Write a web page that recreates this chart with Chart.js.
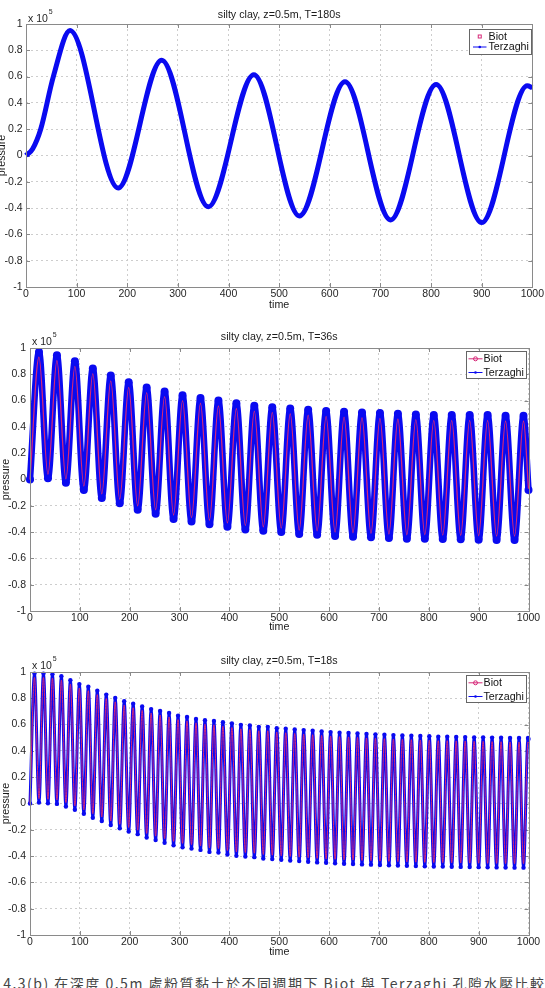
<!DOCTYPE html>
<html><head><meta charset="utf-8">
<script src="https://cdn.jsdelivr.net/npm/chart.js"></script>
<style>
html,body{margin:0;padding:0;background:#fff;width:545px;height:988px;overflow:hidden;}
body{position:relative;}
canvas{position:absolute;left:0;}
#cap{position:absolute;left:-17px;top:973px;font:14px "Noto Sans CJK TC",sans-serif;color:#444;white-space:nowrap;letter-spacing:1.5px;}
</style></head><body>
<canvas id="c1" width="545" height="322" style="top:0px"></canvas>
<canvas id="c2" width="545" height="324" style="top:322px"></canvas>
<canvas id="c3" width="545" height="319" style="top:646px"></canvas>
<div id="cap">圖 4.3(b) 在深度 0.5m 處粉質黏土於不同週期下 Biot 與 Terzaghi 孔隙水壓比較</div>
<script>
// ---------- tick labels / names ----------
const xTickValues = [0,100,200,300,400,500,600,700,800,900,1000];
const yTickValues = [-1,-0.8,-0.6,-0.4,-0.2,0,0.2,0.4,0.6,0.8,1];
const seriesNames = ['Biot','Terzaghi'];
const panelTitles = ['silty clay, z=0.5m, T=180s','silty clay, z=0.5m, T=36s','silty clay, z=0.5m, T=18s'];
const xTitle = 'time', yTitle = 'pressure', expBase = 'x 10', expPow = '5';

// ---------- panel 1 : T = 180 s (pressure in units of 1e5) ----------
const time180 = [0,13,29,54,87,182,268,360,450,540,630,720,810,900,990,1000];
const terz180 = [0,0.05,0.2,0.6,0.95,-0.247,0.725,-0.39,0.615,-0.46,0.56,-0.49,0.54,-0.51,0.53,0.515];
const biot180 = [0,0.05,0.2,0.6,0.945,-0.243,0.72,-0.386,0.61,-0.456,0.556,-0.486,0.536,-0.506,0.526,0.51];

// ---------- panel 2 : T = 36 s ----------
const ends36 = [0,1000];
const terzEnds36 = [0,-0.08];
const biotEnds36 = [0,-0.07];
const peakTime36 = [18,54,90,126,162,198,234,270,306,342,378,414,450,486,522,558,594,630,666,702,738,774,810,846,882,918,954,990];
const terzPeak36 = [0.97,0.945,0.90,0.845,0.79,0.74,0.70,0.67,0.64,0.62,0.60,0.58,0.56,0.55,0.54,0.53,0.52,0.515,0.51,0.505,0.50,0.495,0.49,0.49,0.49,0.49,0.485,0.485];
const biotPeak36 = [0.93,0.905,0.86,0.805,0.75,0.70,0.66,0.63,0.60,0.58,0.56,0.54,0.52,0.51,0.50,0.49,0.48,0.475,0.47,0.465,0.46,0.455,0.45,0.45,0.45,0.45,0.445,0.445];
const troughTime36 = [36,72,108,144,180,216,252,288,324,360,396,432,468,504,540,576,612,648,684,720,756,792,828,864,900,936,972];
const terzTrough36 = [0.01,-0.025,-0.08,-0.14,-0.18,-0.23,-0.26,-0.30,-0.32,-0.34,-0.36,-0.38,-0.39,-0.40,-0.415,-0.42,-0.43,-0.435,-0.44,-0.445,-0.45,-0.45,-0.453,-0.455,-0.458,-0.46,-0.46];
const biotTrough36 = [0.04,0.005,-0.05,-0.11,-0.15,-0.20,-0.23,-0.27,-0.29,-0.31,-0.33,-0.35,-0.36,-0.37,-0.385,-0.39,-0.40,-0.405,-0.41,-0.415,-0.42,-0.42,-0.423,-0.425,-0.428,-0.43,-0.43];

// ---------- panel 3 : T = 18 s ----------
const ends18 = [0,1000];
const terzEnds18 = [0,0.49];
const biotEnds18 = [0,0.46];
const peakTime18 = [9,27,45,63,81,99,117,135,153,171,189,207,225,243,261,279,297,315,333,351,369,387,405,423,441,459,477,495,513,531,549,567,585,603,621,639,657,675,693,711,729,747,765,783,801,819,837,855,873,891,909,927,945,963,981,999];
const terzPeak18 = [0.988,0.988,0.983,0.968,0.938,0.908,0.888,0.858,0.828,0.803,0.778,0.758,0.738,0.718,0.703,0.688,0.668,0.658,0.643,0.633,0.628,0.618,0.608,0.598,0.593,0.583,0.583,0.573,0.568,0.563,0.558,0.553,0.548,0.543,0.538,0.536,0.533,0.528,0.526,0.523,0.52,0.518,0.516,0.513,0.511,0.508,0.508,0.506,0.505,0.503,0.503,0.501,0.5,0.498,0.498,0.498];
const biotPeak18 = [0.958,0.958,0.953,0.938,0.908,0.878,0.858,0.828,0.798,0.773,0.748,0.728,0.708,0.688,0.673,0.658,0.638,0.628,0.613,0.603,0.598,0.588,0.578,0.568,0.563,0.553,0.553,0.543,0.538,0.533,0.528,0.523,0.518,0.513,0.508,0.506,0.503,0.498,0.496,0.493,0.49,0.488,0.486,0.483,0.481,0.478,0.478,0.476,0.475,0.473,0.473,0.471,0.47,0.468,0.468,0.468];
const troughTime18 = [18,36,54,72,90,108,126,144,162,180,198,216,234,252,270,288,306,324,342,360,378,396,414,432,450,468,486,504,522,540,558,576,594,612,630,648,666,684,702,720,738,756,774,792,810,828,846,864,882,900,918,936,954,972,990];
const terzTrough18 = [0.007,0.002,-0.003,-0.023,-0.048,-0.078,-0.108,-0.133,-0.163,-0.188,-0.213,-0.233,-0.258,-0.278,-0.298,-0.318,-0.333,-0.343,-0.353,-0.368,-0.373,-0.388,-0.398,-0.403,-0.408,-0.418,-0.423,-0.428,-0.433,-0.438,-0.443,-0.448,-0.451,-0.454,-0.458,-0.46,-0.463,-0.465,-0.468,-0.47,-0.472,-0.474,-0.476,-0.478,-0.479,-0.48,-0.481,-0.482,-0.483,-0.484,-0.485,-0.486,-0.487,-0.488,-0.488];
const biotTrough18 = [0.037,0.032,0.027,0.007,-0.018,-0.048,-0.078,-0.103,-0.133,-0.158,-0.183,-0.203,-0.228,-0.248,-0.268,-0.288,-0.303,-0.313,-0.323,-0.338,-0.343,-0.358,-0.368,-0.373,-0.378,-0.388,-0.393,-0.398,-0.403,-0.408,-0.413,-0.418,-0.421,-0.424,-0.428,-0.43,-0.433,-0.435,-0.438,-0.44,-0.442,-0.444,-0.446,-0.448,-0.449,-0.45,-0.451,-0.452,-0.453,-0.454,-0.455,-0.456,-0.457,-0.458,-0.458];

// ---------- helpers ----------
function merge(...parts){
  const pts=[];
  parts.forEach(([t,v])=>t.forEach((x,i)=>pts.push({x:x,y:v[i]})));
  return pts.sort((a,b)=>a.x-b.x);
}
const FONT='"Liberation Sans", Arial, sans-serif';
Chart.defaults.font.family=FONT;
Chart.defaults.color='#262626';
const BLUE='rgb(10,10,240)', RED='rgb(215,40,120)';

const matlabPlugin={
  id:'matlab',
  beforeDatasetsDraw(chart){
    const {ctx,chartArea:a,scales:{x,y}}=chart;
    ctx.save();ctx.strokeStyle='#8a8a8a';ctx.lineWidth=1;ctx.beginPath();
    x.ticks.forEach(t=>{const p=Math.round(x.getPixelForValue(t.value))+0.5;
      ctx.moveTo(p,a.bottom);ctx.lineTo(p,a.bottom-4);ctx.moveTo(p,a.top);ctx.lineTo(p,a.top+4);});
    y.ticks.forEach(t=>{const p=Math.round(y.getPixelForValue(t.value))+0.5;
      ctx.moveTo(a.left,p);ctx.lineTo(a.left+4,p);ctx.moveTo(a.right,p);ctx.lineTo(a.right-4,p);});
    ctx.stroke();ctx.restore();
  },
  afterDraw(chart,args,o){
    const {ctx,chartArea:a}=chart;
    ctx.save();
    ctx.strokeStyle='#8a8a8a';ctx.lineWidth=1;
    ctx.strokeRect(Math.round(a.left)+0.5,Math.round(a.top)+0.5,Math.round(a.right-a.left),Math.round(a.bottom-a.top));
    // exponent label
    ctx.fillStyle='#262626';ctx.textAlign='left';ctx.textBaseline='alphabetic';
    ctx.font='10.5px '+FONT;
    ctx.fillText(expBase,a.left+2,a.top-o.expDy);
    const w=ctx.measureText(expBase).width;
    ctx.font='7px '+FONT;
    ctx.fillText(expPow,a.left+3+w,a.top-o.expDy-8);
    // legend
    const L=o.legend;
    const bx=Math.round(a.right-L.rightGap-L.w)+0.5, by=Math.round(a.top+L.dy)+0.5;
    ctx.fillStyle='#fff';ctx.fillRect(bx,by,L.w,L.h);
    ctx.strokeStyle='#666';ctx.strokeRect(bx,by,L.w,L.h);
    ctx.font='10.7px '+FONT;ctx.textBaseline='middle';
    chart.data.datasets.forEach((ds,i)=>{
      const ry=by+L.rows[i];
      const x0=bx+L.sx0,x1=bx+L.sx1,cx=(x0+x1)/2;
      ctx.strokeStyle=ds.borderColor;ctx.fillStyle=ds.borderColor;ctx.lineWidth=1;
      const st=L.styles[i];
      if(st.line){ctx.beginPath();ctx.moveTo(x0,ry);ctx.lineTo(x1,ry);ctx.stroke();}
      if(st.marker==='square'){ctx.strokeRect(cx-1.5,ry-1.5,3,3);}
      else if(st.marker==='circle'){ctx.beginPath();ctx.arc(cx,ry,2,0,Math.PI*2);ctx.stroke();}
      else if(st.marker==='dot'){ctx.beginPath();ctx.arc(cx,ry,1.3,0,Math.PI*2);ctx.fill();}
      ctx.fillStyle='#111';
      ctx.fillText(ds.label,bx+L.tx,ry+0.5);
    });
    ctx.restore();
  }
};

function makePanel(id,cfg){
  const A=cfg.area, H=cfg.height;
  new Chart(document.getElementById(id),{
    type:'line',
    data:{datasets:[
      {label:seriesNames[0],data:cfg.biot,borderColor:RED,borderWidth:cfg.redW,order:cfg.redOrder,
       pointRadius:0,cubicInterpolationMode:'monotone',clip:8},
      {label:seriesNames[1],data:cfg.terz,borderColor:BLUE,borderWidth:cfg.blueW,order:1,
       pointStyle:'circle',pointRadius:cfg.blobR,pointBorderWidth:0,
       pointBackgroundColor:BLUE,cubicInterpolationMode:'monotone',clip:8}
    ]},
    options:{
      responsive:false,animation:false,devicePixelRatio:1,events:[],
      layout:{padding:{left:0,right:545-A.right,top:0,bottom:0}},
      plugins:{
        legend:{display:false},tooltip:{enabled:false},
        title:{display:true,text:cfg.title,fullSize:false,color:'#1a1a1a',
          font:{size:10.7,weight:'normal'},padding:{top:cfg.tPad[0],bottom:cfg.tPad[1]}},
        matlab:{expDy:cfg.expDy,legend:cfg.legend}
      },
      scales:{
        x:{type:'linear',min:0,max:1000,
          afterBuildTicks:s=>{s.ticks=xTickValues.map(v=>({value:v}));},
          afterFit:s=>{s.height=H-A.bottom;},
          ticks:{padding:cfg.xTickPad,font:{size:10.5},color:'#262626',maxRotation:0,autoSkip:false,callback:v=>String(v)},
          grid:{color:'#cdcdcd',lineWidth:1,drawTicks:false},
          border:{display:false,dash:[2,3]},
          title:{display:true,text:xTitle,font:{size:10.7},color:'#1a1a1a',padding:{top:0,bottom:cfg.xTitlePad}}},
        y:{type:'linear',min:-1,max:1,
          afterBuildTicks:s=>{s.ticks=yTickValues.map(v=>({value:v}));},
          afterFit:s=>{s.width=A.left;},
          ticks:{padding:cfg.yTickPad,font:{size:10.5},color:'#262626',autoSkip:false,callback:v=>String(v)},
          grid:{color:'#cdcdcd',lineWidth:1,drawTicks:false},
          border:{display:false,dash:[2,3]},
          title:{display:true,text:yTitle,font:{size:10.7},color:'#1a1a1a',padding:{top:cfg.yTitlePad,bottom:0}}}
      }
    },
    plugins:[matlabPlugin]
  });
}

const legendSmall={w:62,h:25,dy:5,rightGap:1,rows:[7,17.5],sx0:3.5,sx1:17,tx:19,
  styles:[{line:false,marker:'square'},{line:true,marker:'dot'}]};
const legendLarge={w:60,h:27,dy:2.7,rightGap:2.5,rows:[7.3,21],sx0:2,sx1:16,tx:17,
  styles:[{line:true,marker:'circle'},{line:true,marker:'dot'}]};

makePanel('c1',{title:panelTitles[0],height:322,area:{left:26,right:534,top:24,bottom:287},
  biot:merge([time180,biot180]),terz:merge([time180,terz180]),
  redW:1,redOrder:2,blueW:5,blobR:0,tPad:[9.1,2.06],xTitlePad:10.6,yTitlePad:-3.9,xTickPad:1,yTickPad:3.3,expDy:2,legend:legendSmall});

makePanel('c2',{title:panelTitles[1],height:324,area:{left:30,right:528.5,top:26,bottom:289},
  biot:merge([ends36,biotEnds36],[peakTime36,biotPeak36],[troughTime36,biotTrough36]),
  terz:merge([ends36,terzEnds36],[peakTime36,terzPeak36],[troughTime36,terzTrough36]),
  redW:1.3,redOrder:0,blueW:6.5,blobR:4,tPad:[8.9,4.26],xTitlePad:12.6,yTitlePad:0,xTickPad:1,yTickPad:4,expDy:3,legend:legendLarge});

makePanel('c3',{title:panelTitles[2],height:319,area:{left:30,right:528.5,top:26,bottom:289},
  biot:merge([ends18,biotEnds18],[peakTime18,biotPeak18],[troughTime18,biotTrough18]),
  terz:merge([ends18,terzEnds18],[peakTime18,terzPeak18],[troughTime18,terzTrough18]),
  redW:1,redOrder:0,blueW:3,blobR:2.2,tPad:[8.6,4.56],xTitlePad:6.6,yTitlePad:0,xTickPad:1,yTickPad:4,expDy:3,legend:legendLarge});
</script>
</body></html>
